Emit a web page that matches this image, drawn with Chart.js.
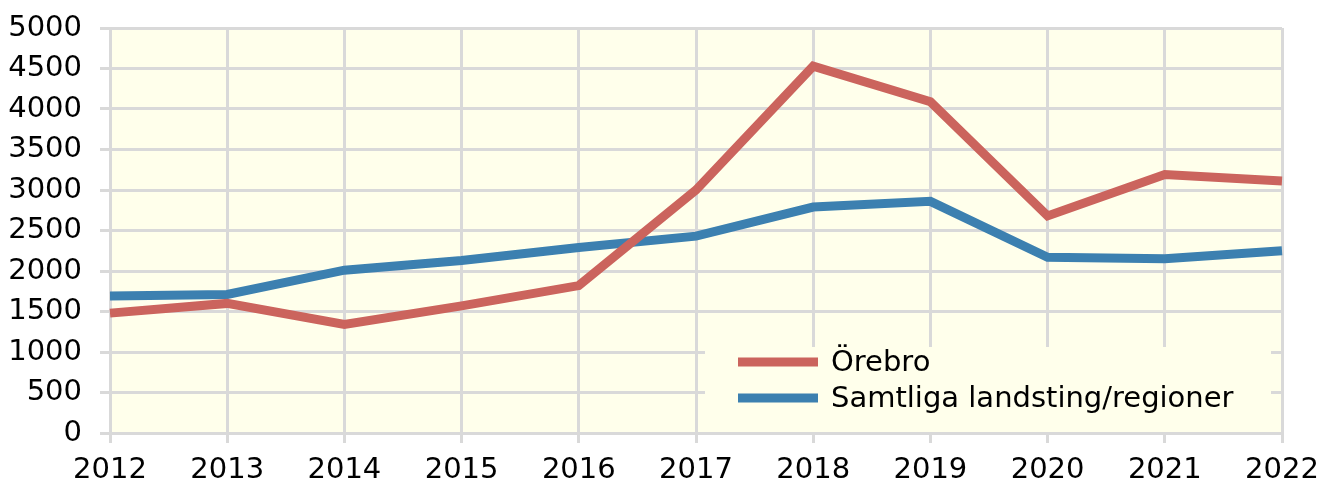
<!DOCTYPE html>
<html>
<head>
<meta charset="utf-8">
<script src="https://cdn.jsdelivr.net/npm/chart.js@4/dist/chart.umd.min.js"></script>
<style>
  html,body{margin:0;padding:0;background:#fff}
  #wrap{width:1332px;height:488px;position:relative}
</style>
</head>
<body>
<div id="wrap"><canvas id="c"></canvas></div>
<script>
// data
const years = ['2012','2013','2014','2015','2016','2017','2018','2019','2020','2021','2022'];
const orebro = [1480,1600,1340,1570,1820,3000,4530,4090,2680,3190,3110];
const samtliga = [1690,1710,2010,2130,2290,2430,2790,2860,2170,2150,2250];
const seriesNames = ['Örebro','Samtliga landsting/regioner'];
const seriesColors = ['#CB645D','#3C80B0'];

const BG = '#FFFFEB';
const GRID = '#D9D9D9';
const FONT = '"DejaVu Sans", Verdana, sans-serif';
const FS = 29;

// plot background
const bgPlugin = {
  id:'bg',
  beforeDraw(chart){
    const a=chart.chartArea, ctx=chart.ctx;
    ctx.save(); ctx.fillStyle=BG; ctx.fillRect(a.left,a.top,a.right-a.left,a.bottom-a.top); ctx.restore();
  }
};

// legend box inside the plot, bottom right
const legendPlugin = {
  id:'inLegend',
  beforeDatasetsDraw(chart){
    const ctx=chart.ctx;
    ctx.save();
    ctx.fillStyle=BG;
    ctx.fillRect(705,347,566,85);
    ctx.font=FS+'px '+FONT;
    ctx.textBaseline='middle';
    chart.data.datasets.forEach((ds,i)=>{
      const y=362+i*36;
      ctx.strokeStyle=ds.borderColor; ctx.lineWidth=9;
      ctx.beginPath(); ctx.moveTo(738,y); ctx.lineTo(818,y); ctx.stroke();
      ctx.fillStyle='#000';
      ctx.fillText(ds.label,831,y+1);
    });
    ctx.restore();
  }
};

new Chart(document.getElementById('c'),{
  type:'line',
  data:{labels:years, datasets:[
    {label:seriesNames[0], data:orebro, borderColor:seriesColors[0], backgroundColor:seriesColors[0], borderWidth:9, pointRadius:0, tension:0},
    {label:seriesNames[1], data:samtliga, borderColor:seriesColors[1], backgroundColor:seriesColors[1], borderWidth:9, pointRadius:0, tension:0}
  ]},
  options:{
    responsive:true, maintainAspectRatio:false, animation:false,
    layout:{padding:{top:28,right:50,left:0,bottom:0}},
    plugins:{legend:{display:false}, tooltip:{enabled:false}},
    scales:{
      x:{
        offset:false,
        grid:{color:GRID, lineWidth:3, tickLength:10, drawOnChartArea:true},
        border:{color:GRID, width:3},
        ticks:{color:'#000', font:{family:FONT,size:FS}, padding:10, maxRotation:0, autoSkip:false},
        afterFit(s){ s.height=55; s.paddingLeft=0; s.paddingRight=0; }
      },
      y:{
        min:0, max:5000,
        grid:{color:GRID, lineWidth:3, tickLength:10},
        border:{color:GRID, width:3},
        ticks:{stepSize:500, color:'#000', font:{family:FONT,size:FS}, padding:18, callback:v=>String(v)},
        afterFit(s){ s.width=110; s.paddingTop=0; s.paddingBottom=0; }
      }
    }
  },
  plugins:[bgPlugin, legendPlugin]
});
</script>
</body>
</html>
